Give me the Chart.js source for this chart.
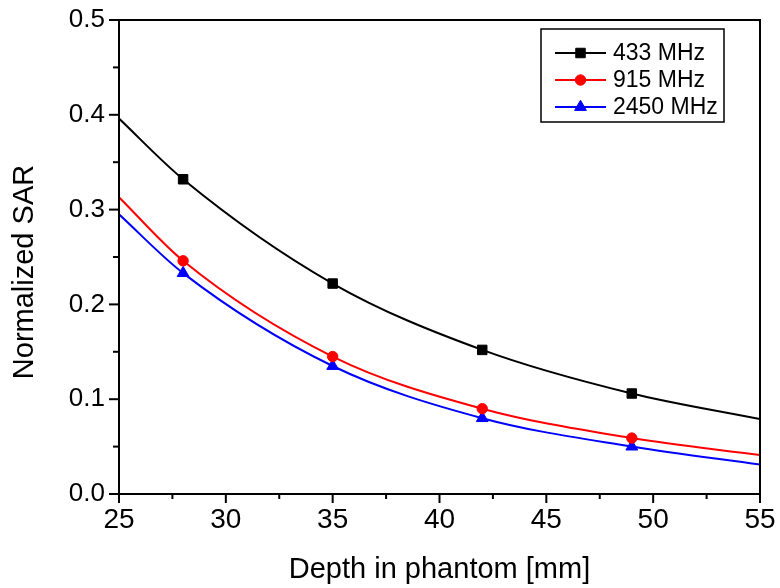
<!DOCTYPE html>
<html>
<head>
<meta charset="utf-8">
<script src="https://cdn.jsdelivr.net/npm/chart.js@4/dist/chart.umd.min.js"></script>
<style>
  html, body { margin: 0; padding: 0; background: #fff; }
  canvas { display: block; }
</style>
</head>
<body>
<canvas id="c" width="780" height="588"></canvas>
<script>
// Depth in phantom [mm]; first and last entries are the curve ends (no marker)
const depth = [25, 28, 35, 42, 49, 55];
const sar433 = [0.396, 0.332, 0.222, 0.152, 0.106, 0.079];
const sar915 = [0.313, 0.246, 0.145, 0.090, 0.059, 0.041];
const sar2450 = [0.295, 0.233, 0.135, 0.080, 0.050, 0.031];
const seriesLabels = ['433 MHz', '915 MHz', '2450 MHz'];
const xTitle = 'Depth in phantom [mm]';
const yTitle = 'Normalized SAR';

const FONT = '"Liberation Sans", Arial, Helvetica, sans-serif';
Chart.defaults.font.family = FONT;
Chart.defaults.color = '#000';

function pts(vals) { return depth.map((d, i) => ({ x: d, y: vals[i] })); }
function radiusFn(r) {
  return ctx => (ctx.dataIndex === 0 || ctx.dataIndex === depth.length - 1) ? 0 : r;
}
function makeSet(label, vals, color, style, r) {
  return {
    label, data: pts(vals),
    borderColor: color, backgroundColor: color,
    pointBackgroundColor: color, pointBorderColor: color,
    borderWidth: 2, pointStyle: style,
    pointRadius: radiusFn(r), pointHoverRadius: radiusFn(r), pointBorderWidth: 1,
    cubicInterpolationMode: 'monotone', fill: false,
    legendRadius: r
  };
}

const framePlugin = {
  id: 'frame',
  afterDraw(chart) {
    const { ctx, chartArea: a, scales: { x, y } } = chart;
    ctx.save();
    ctx.strokeStyle = '#000';
    ctx.lineWidth = 2;
    ctx.strokeRect(a.left, a.top, a.right - a.left, a.bottom - a.top);
    // x ticks
    x.ticks.forEach(t => {
      const px = x.getPixelForValue(t.value);
      const major = Math.abs(t.value / 5 - Math.round(t.value / 5)) < 1e-6;
      ctx.beginPath();
      ctx.moveTo(px, a.bottom);
      ctx.lineTo(px, a.bottom + (major ? 9 : 5));
      ctx.stroke();
    });
    // y ticks
    y.ticks.forEach(t => {
      const py = y.getPixelForValue(t.value);
      const major = Math.round(t.value * 20) % 2 === 0;
      ctx.beginPath();
      ctx.moveTo(a.left, py);
      ctx.lineTo(a.left - (major ? 10 : 6), py);
      ctx.stroke();
    });
    // axis titles
    ctx.fillStyle = '#000';
    ctx.font = '29px ' + FONT;
    ctx.textAlign = 'center';
    ctx.textBaseline = 'alphabetic';
    ctx.fillText(xTitle, (a.left + a.right) / 2, 578);
    ctx.save();
    ctx.translate(33, 272);
    ctx.rotate(-Math.PI / 2);
    ctx.fillText(yTitle, 0, 0);
    ctx.restore();

    // legend
    const bx = 541, by = 29, bw = 183, bh = 93;
    ctx.fillStyle = '#fff';
    ctx.fillRect(bx, by, bw, bh);
    ctx.lineWidth = 1.5;
    ctx.strokeStyle = '#000';
    ctx.strokeRect(bx, by, bw, bh);
    ctx.font = '23px ' + FONT;
    ctx.textAlign = 'left';
    ctx.textBaseline = 'middle';
    const rowsY = [53, 80, 107];
    chart.data.datasets.forEach((ds, i) => {
      const ry = rowsY[i];
      ctx.strokeStyle = ds.borderColor;
      ctx.lineWidth = 2;
      ctx.beginPath();
      ctx.moveTo(555, ry);
      ctx.lineTo(606, ry);
      ctx.stroke();
      ctx.fillStyle = ds.backgroundColor;
      ctx.strokeStyle = ds.borderColor;
      ctx.lineWidth = 1;
      Chart.helpers.drawPoint(ctx, {
        pointStyle: ds.pointStyle, radius: ds.legendRadius, rotation: 0, borderWidth: 1
      }, 580.5, ry);
      ctx.fillStyle = '#000';
      ctx.fillText(ds.label, 613, ry + 1);
    });
    ctx.restore();
  }
};

const sets = [
  makeSet(seriesLabels[0], sar433, '#000000', 'rect', 6.7),
  makeSet(seriesLabels[1], sar915, '#ff0000', 'circle', 5.2),
  makeSet(seriesLabels[2], sar2450, '#0000ff', 'triangle', 6.8)
];

new Chart(document.getElementById('c'), {
  type: 'line',
  data: { datasets: sets },
  options: {
    responsive: false,
    animation: false,
    devicePixelRatio: 1,
    layout: { padding: 0 },
    plugins: { legend: { display: false }, tooltip: { enabled: false }, title: { display: false } },
    scales: {
      x: {
        type: 'linear', min: 25, max: 55,
        grid: { display: false, drawTicks: false },
        border: { display: false },
        ticks: {
          stepSize: 2.5, autoSkip: false, maxRotation: 0, padding: 9,
          font: { size: 28 }, color: '#000',
          callback: v => (Math.abs(v / 5 - Math.round(v / 5)) < 1e-6 ? String(v) : '')
        },
        afterFit(s) { s.height = 94; s.paddingLeft = 0; s.paddingRight = 20; }
      },
      y: {
        type: 'linear', min: 0, max: 0.5,
        grid: { display: false, drawTicks: false },
        border: { display: false },
        ticks: {
          stepSize: 0.05, autoSkip: false, padding: 14,
          font: { size: 26 }, color: '#000',
          callback: v => (Math.round(v * 20) % 2 === 0 ? v.toFixed(1) : '')
        },
        afterFit(s) { s.width = 119; s.paddingTop = 20; s.paddingBottom = 0; }
      }
    }
  },
  plugins: [framePlugin]
});
</script>
</body>
</html>
